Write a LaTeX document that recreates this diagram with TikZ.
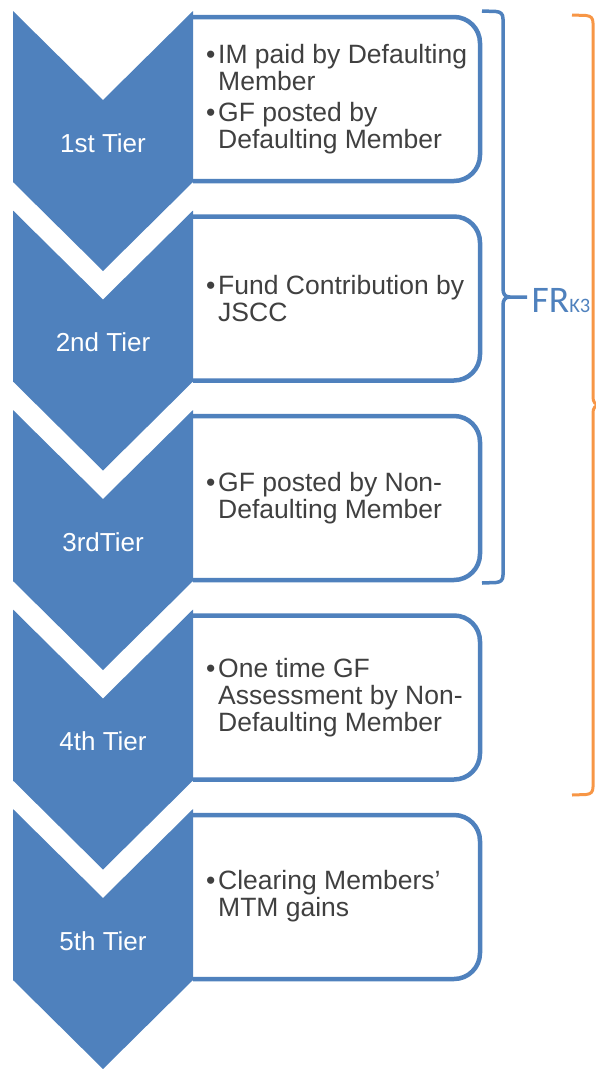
\documentclass[tikz,border=0pt]{standalone}
\usepackage{fontspec}
\setmainfont{Liberation Sans}
\newfontfamily\calib{Carlito}
\definecolor{cblue}{HTML}{4F81BD}
\definecolor{corange}{HTML}{F79646}
\definecolor{ctext}{HTML}{404040}
\newcommand{\bul}{\makebox[12pt][l]{•}}
\newcommand{\ind}{\hspace*{12pt}}
\begin{document}
\begin{tikzpicture}[x=1pt,y=-1pt,
 chev/.style={fill=cblue,draw=none},
 boxline/.style={draw=cblue,line width=4.5pt,fill=white},
 tierlbl/.style={text=white,font=\fontsize{26}{28}\selectfont,inner sep=0},
 itemtxt/.style={text=ctext,font=\fontsize{26.5}{27}\selectfont,align=left,anchor=west,inner sep=0},
 bluebrace/.style={draw=cblue,line width=3.5pt,line join=round},
 orangebrace/.style={draw=corange,line width=3pt,line join=round}]
\useasboundingbox (0,0) rectangle (596,1069);
\foreach \i in {0,...,4} {
  \pgfmathsetmacro\o{199.5*\i}
  \draw[boxline] (193,17+\o) -- (454,17+\o) arc(-90:0:26) -- (480,155+\o) arc(0:90:26) -- (193,181+\o);
}
\foreach \i in {0,...,4} {
  \pgfmathsetmacro\o{199.5*\i}
  \fill[chev] (13,11+\o) -- (103,100+\o) -- (193,11+\o) -- (193,182+\o) -- (103,271+\o) -- (13,182+\o) -- cycle;
}
\node[tierlbl] (t1) at (103,143) {1st Tier};
\node[tierlbl] (t2) at (103,342.5) {2nd Tier};
\node[tierlbl] (t3) at (103,542) {3rdTier};
\node[tierlbl] (t4) at (103,741.5) {4th Tier};
\node[tierlbl] (t5) at (103,941) {5th Tier};

\node[itemtxt] (b1) at (206,99) {\bul IM paid by Defaulting\\\ind Member\\[4pt]\bul GF posted by\\\ind Defaulting Member};
\node[itemtxt] (b2) at (206,298.5) {\bul Fund Contribution by\\\ind JSCC};
\node[itemtxt] (b3) at (206,498) {\bul GF posted by Non-\\\ind Defaulting Member};
\node[itemtxt] (b4) at (206,697.5) {\bul One time GF\\\ind Assessment by Non-\\\ind Defaulting Member};
\node[itemtxt] (b5) at (206,896) {\bul Clearing Members’\\\ind MTM gains};

% blue brace
\draw[bluebrace] (482,11) -- (496,11.5) .. controls (501,12) and (503,14) .. (503,19) -- (503,289) .. controls (503,294) and (505,297) .. (510,297) -- (527,297);
\draw[bluebrace] (510,297) .. controls (505,297) and (503,300) .. (503,305) -- (503,575) .. controls (503,580) and (501,582) .. (496,582.5) -- (482,583);
\node[text=cblue,anchor=base west,inner sep=0] (fr) at (531.5,312) {\calib\fontsize{37.5}{38}\selectfont FR\fontsize{20.5}{21}\selectfont K3};

% orange brace
\draw[orangebrace] (572,15) -- (586,15.5) .. controls (591,16) and (593,18) .. (593,23) -- (593,397) .. controls (593,402) and (595,405) .. (600,405) -- (615,405);
\draw[orangebrace] (600,405) .. controls (595,405) and (593,408) .. (593,413) -- (593,787) .. controls (593,792) and (591,794) .. (586,794.5) -- (572,795);
\end{tikzpicture}
\end{document}
